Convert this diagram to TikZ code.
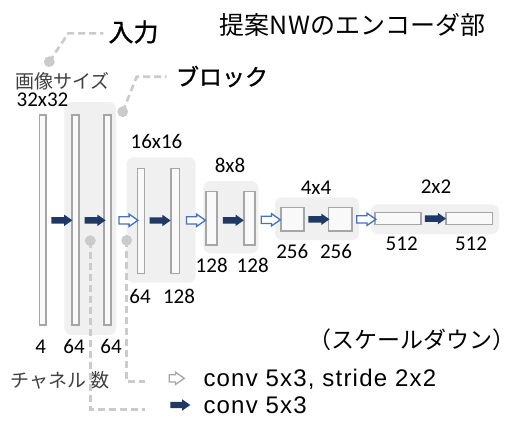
\documentclass[tikz,border=0pt]{standalone}
\usepackage{fontspec}
\setmainfont{Carlito}
\newfontfamily\jp{Noto Sans CJK JP}
\newfontfamily\jpb[FakeBold=1.2]{Noto Sans CJK JP}
\newfontfamily\leg[LetterSpace=5]{Liberation Sans}
\usetikzlibrary{shapes.arrows}
\definecolor{navy}{HTML}{1F3864}
\definecolor{hblue}{HTML}{4472C4}
\definecolor{barc}{HTML}{A6A6A6}
\definecolor{bgc}{HTML}{F0F0F0}
\definecolor{dashc}{HTML}{CBCBCB}
\definecolor{jgray}{HTML}{404040}
\tikzset{
  bar/.style={draw=barc, line width=1.6pt, fill=white!60!bgc, inner sep=0pt, outer sep=0pt},
  blk/.style={fill=bgc, rounded corners=7pt, inner sep=0pt, outer sep=0pt},
  arrbase/.style={single arrow, inner xsep=0pt, inner ysep=3pt, outer sep=0pt,
    single arrow head extend=2.5pt, single arrow tip angle=70, minimum height=21pt},
  farr/.style={arrbase, fill=navy},
  harr/.style={arrbase, draw=hblue, fill=white, line width=1.3pt, minimum height=19pt},
  garr/.style={arrbase, draw=barc, fill=white, line width=1.3pt, minimum height=15pt},
  leader/.style={draw=dashc, line width=2.6pt, dash pattern=on 7pt off 4pt},
  dotn/.style={circle, fill=dashc, inner sep=0pt, minimum size=10.5pt},
  num/.style={font=\fontsize{21}{24}\selectfont, inner sep=1pt},
  jlab/.style={font=\jp\fontsize{19}{22}\selectfont, text=jgray, inner sep=1pt},
  jbig/.style={font=\jpb\fontsize{25}{28}\selectfont, inner sep=0pt},
  legt/.style={font=\leg\fontsize{24}{28}\selectfont, inner sep=0pt, anchor=west}
}
\begin{document}
\begin{tikzpicture}[x=1pt, y=-1pt]
\useasboundingbox[fill=white] (0,0) rectangle (520,423);
% block backgrounds
\node[blk, minimum width=51.7pt, minimum height=233pt] (g1) at (90.15,218.5) {};
\node[blk, minimum width=69pt, minimum height=125.4pt] (g2) at (161.2,220) {};
\node[blk, minimum width=55pt, minimum height=72.3pt] (g3) at (230.8,217.15) {};
\node[blk, minimum width=84pt, minimum height=42.7pt] (g4) at (317,218.65) {};
\node[blk, minimum width=128pt, minimum height=29.7pt] (g5) at (435,219.15) {};
% bars
\node[bar, minimum width=6.7pt, minimum height=210pt] (b1) at (42.7,220) {};
\node[bar, minimum width=7pt, minimum height=210pt] (b2) at (75.2,220) {};
\node[bar, minimum width=7pt, minimum height=210pt] (b3) at (107.5,220) {};
\node[bar, minimum width=7pt, minimum height=105pt] (b4) at (140.8,220.8) {};
\node[bar, minimum width=8.6pt, minimum height=105pt] (b5) at (175,220.8) {};
\node[bar, minimum width=11pt, minimum height=53.3pt] (b6) at (211.2,218.3) {};
\node[bar, minimum width=11pt, minimum height=53.3pt] (b7) at (249.5,218.3) {};
\node[bar, minimum width=23pt, minimum height=23.4pt] (b8) at (292.2,219) {};
\node[bar, minimum width=23.4pt, minimum height=23.4pt] (b9) at (340,219) {};
\node[bar, minimum width=46pt, minimum height=12pt] (b10) at (398,218.3) {};
\node[bar, minimum width=46.3pt, minimum height=12pt] (b11) at (469.2,218.3) {};
% arrows
\node[farr] (f1) at (59.5,220.3) {};
\node[farr] (f2) at (92.8,220.3) {};
\node[harr] (h1) at (125.8,220.3) {};
\node[farr] (f3) at (157.8,220.5) {};
\node[harr] (h2) at (193.3,220.3) {};
\node[farr] (f4) at (231,220.3) {};
\node[harr] (h3) at (268.2,219.8) {};
\node[farr] (f5) at (316.7,219.3) {};
\node[harr] (h4) at (363.7,219.3) {};
\node[farr] (f6) at (433.2,218.6) {};
% labels
\node[jlab] (imsz) at (62.5,81.7) {画像サイズ};
\node[num] (s32) at (42.5,100) {32x32};
\node[num] (s16) at (156.5,141.5) {16x16};
\node[num] (s8) at (230,165) {8x8};
\node[num] (s4) at (316,187.3) {4x4};
\node[num] (s2) at (436,187) {2x2};
\node[num] (c1) at (40.7,346.7) {4};
\node[num] (c2) at (74,346.7) {64};
\node[num] (c3) at (111,346.7) {64};
\node[num] (c4) at (140,296.7) {64};
\node[num] (c5) at (179,296.7) {128};
\node[num] (c6) at (211.7,265) {128};
\node[num] (c7) at (252.7,265) {128};
\node[num] (c8) at (292.3,251) {256};
\node[num] (c9) at (336,251) {256};
\node[num] (c10) at (401.7,244) {512};
\node[num] (c11) at (471,244) {512};
\node[jlab, anchor=west] (chn) at (9,380) {チャネル 数};
\node[jbig] (inp) at (133.5,32) {入力};
\node[jbig, font=\jpb\fontsize{23}{26}\selectfont] (blkl) at (222,76.5) {ブロック};
\node[font=\jp\fontsize{25}{28}\selectfont, inner sep=0pt] (title) at (352.5,25) {提案NWのエンコーダ部};
\node[font=\jp\fontsize{23}{26}\selectfont, inner sep=0pt] (scd) at (411.7,340) {（スケールダウン）};
% legend
\node[garr] (lg1) at (174.2,378.3) {};
\node[farr, minimum height=20pt] (lg2) at (178,405) {};
\node[legt] (lt1) at (203.3,379) {conv 5x3, stride 2x2};
\node[legt] (lt2) at (203.3,405) {conv 5x3};
% leaders
\node[dotn] (d1) at (49.3,61.7) {};
\node[dotn] (d2) at (122.7,111.7) {};
\node[dotn] (d3) at (90.3,240.7) {};
\node[dotn] (d4) at (126.7,240.3) {};
\coordinate (k1) at (68.3,33.3);
\coordinate (e1) at (103.3,33.3);
\coordinate (k2) at (136.7,76.7);
\coordinate (e2) at (166.7,76.7);
\coordinate (e3) at (145,409.3);
\coordinate (e4) at (145,381.7);
\draw[leader] (d1.center) -- (k1) -- (e1);
\draw[leader] (d2.center) -- (k2) -- (e2);
\draw[leader] (d3.center) |- (e3);
\draw[leader] (d4.center) |- (e4);
\node[dotn] at (d1) {};
\node[dotn] at (d2) {};
\node[dotn] at (d3) {};
\node[dotn] at (d4) {};
\end{tikzpicture}
\end{document}
